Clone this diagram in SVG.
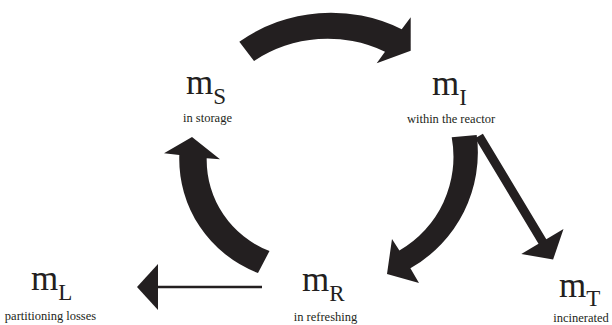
<svg xmlns="http://www.w3.org/2000/svg" width="612" height="325" viewBox="0 0 612 325">
<style>
.flow{fill:#231f20;stroke:none}
.line{stroke:#231f20;stroke-width:2.7;fill:none}
.m{font-family:"Liberation Serif","Times New Roman",serif;font-size:35px;fill:#231f20}
.sub{font-size:23px}
.lbl{font-family:"Liberation Serif","Times New Roman",serif;font-size:12.5px;fill:#231f20;text-anchor:middle}
</style>
<rect width="612" height="325" fill="#ffffff"/>
<g id="connectors">
  <path id="s-to-i" class="flow" d="M239.3,41.7 A159,159 0 0 1 401.7,29.3 L410.7,17.3 L410.7,50.7 L376.7,63.3 L385,51.7 A133,133 0 0 0 254,61 Z"/>
  <path id="r-to-s" class="flow" d="M258,273 A122,122 0 0 1 179.3,155 L164,153.3 L192,137 L220,159.3 L206.7,158.3 A97.5,97.5 0 0 0 269.5,251 Z"/>
  <path id="i-to-r" class="flow" d="M476.7,135 A133,133 0 0 1 410.4,268.3 L419,283 L387,274 L392,239 L399.4,250.4 A108,108 0 0 0 451.7,137.3 Z"/>
  <path id="i-to-t" class="flow" d="M475.1,138.3 L482.9,133.7 L546.3,239.2 L563.5,229 L553.1,259.6 L521.3,254 L538.5,243.8 Z"/>
  <g id="r-to-l">
    <line class="line" x1="262" y1="287" x2="156" y2="287"/>
    <path class="flow" d="M137,287 L158,264 L158,310 Z"/>
  </g>
</g>
<g id="node-mS">
  <text class="m" x="186" y="94">m<tspan class="sub" dy="9.5">S</tspan></text>
  <text class="lbl" x="207.5" y="122">in storage</text>
</g>
<g id="node-mI">
  <text class="m" x="432" y="95">m<tspan class="sub" dy="10">I</tspan></text>
  <text class="lbl" x="451" y="123">within the reactor</text>
</g>
<g id="node-mR">
  <text class="m" x="302" y="291">m<tspan class="sub" dy="10">R</tspan></text>
  <text class="lbl" x="325.5" y="321">in refreshing</text>
</g>
<g id="node-mL">
  <text class="m" x="31" y="290">m<tspan class="sub" dy="10">L</tspan></text>
  <text class="lbl" x="50.5" y="320">partitioning losses</text>
</g>
<g id="node-mT">
  <text class="m" x="559" y="297">m<tspan class="sub" dy="9">T</tspan></text>
  <text class="lbl" x="581" y="322">incinerated</text>
</g>
</svg>
